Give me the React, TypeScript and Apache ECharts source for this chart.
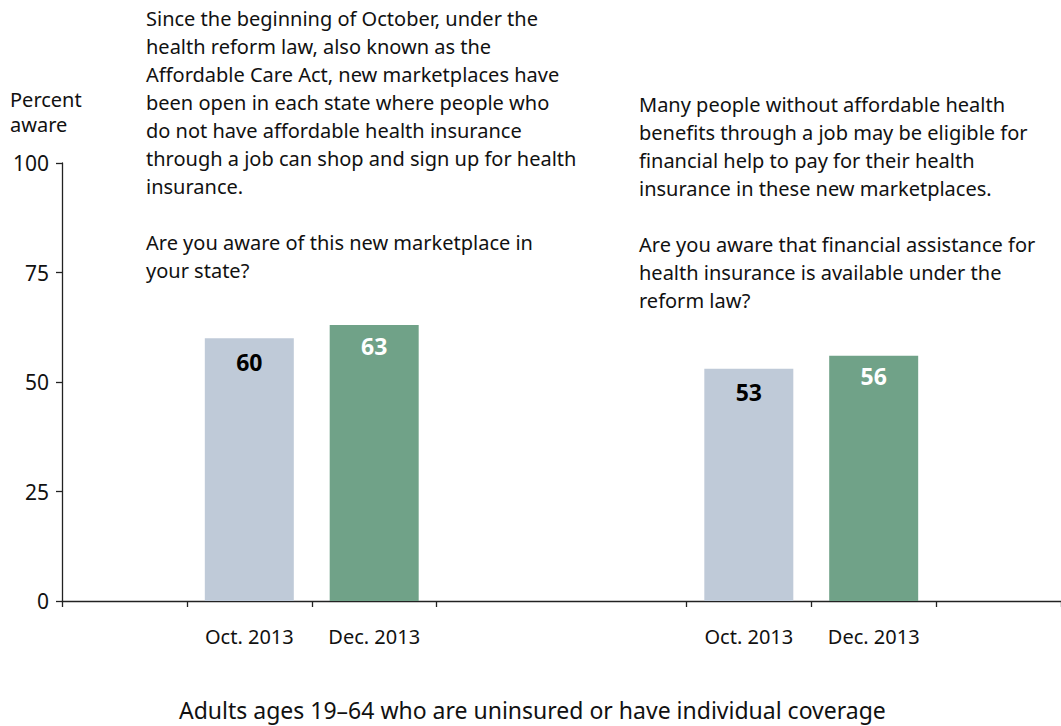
import React, { useEffect, useRef } from "react";
import * as echarts from "echarts";

const categories = ["", "Oct. 2013", "Dec. 2013", "", "", "Oct. 2013", "Dec. 2013", ""];
const values: (number | null)[] = [null, 60, 63, null, null, 53, 56, null];
const barKinds = ["", "oct", "dec", "", "", "oct", "dec", ""];
const yTicks = [0, 25, 50, 75, 100];

const leftQuestion = [
  "Since the beginning of October, under the",
  "health reform law, also known as the",
  "Affordable Care Act, new marketplaces have",
  "been open in each state where people who",
  "do not have affordable health insurance",
  "through a job can shop and sign up for health",
  "insurance.",
  "",
  "Are you aware of this new marketplace in",
  "your state?",
];
const rightQuestion = [
  "Many people without affordable health",
  "benefits through a job may be eligible for",
  "financial help to pay for their health",
  "insurance in these new marketplaces.",
  "",
  "Are you aware that financial assistance for",
  "health insurance is available under the",
  "reform law?",
];
const yAxisTitle = "Percent\naware";
const footnote = "Adults ages 19–64 who are uninsured or have individual coverage";

const COLORS: Record<string, string> = { oct: "#BFCAD8", dec: "#70A288" };
const FONT = "Noto Sans";

export default function App() {
  const ref = useRef<HTMLDivElement>(null);
  useEffect(() => {
    document.body.style.margin = "0";
    const chart = echarts.init(ref.current!, undefined, { renderer: "svg" });
    chart.setOption({
      animation: false,
      textStyle: { fontFamily: FONT },
      title: [
        {
          text: leftQuestion.join("\n"),
          left: 146,
          top: 4,
          padding: 0,
          textStyle: { fontFamily: FONT, fontSize: 20, fontWeight: "normal", color: "#111", lineHeight: 28 },
        },
        {
          text: rightQuestion.join("\n"),
          left: 639,
          top: 90,
          padding: 0,
          textStyle: { fontFamily: FONT, fontSize: 20, fontWeight: "normal", color: "#111", lineHeight: 28 },
        },
        {
          text: yAxisTitle,
          left: 10,
          top: 87,
          padding: 0,
          textStyle: { fontFamily: FONT, fontSize: 20, fontWeight: "normal", color: "#111", lineHeight: 25 },
        },
        {
          text: footnote,
          left: 174,
          top: 693,
          textStyle: { fontFamily: FONT, fontSize: 23, fontWeight: "normal", color: "#111" },
        },
      ],
      grid: { left: 62, right: 0, top: 163, bottom: 125, containLabel: false },
      xAxis: {
        type: "category",
        data: categories,
        axisLine: { lineStyle: { color: "#222", width: 1.3 } },
        axisTick: {
          show: true,
          length: 6,
          lineStyle: { color: "#222", width: 1.3 },
          interval: (i: number) => i !== 4,
        },
        axisLabel: { interval: 0, margin: 25, fontSize: 20, color: "#111", fontFamily: FONT },
      },
      yAxis: {
        type: "value",
        min: 0,
        max: 100,
        interval: 25,
        axisLine: { show: true, lineStyle: { color: "#222", width: 1.3 } },
        axisTick: { show: true, length: 6, lineStyle: { color: "#222", width: 1.3 } },
        splitLine: { show: false },
        axisLabel: {
          fontSize: 21,
          color: "#111",
          margin: 13,
          fontFamily: FONT,
          formatter: (v: number) => (yTicks.includes(v) ? String(v) : ""),
        },
      },
      series: [
        {
          type: "bar",
          barWidth: 89,
          data: values.map((v, i) => {
            if (v === null) return null;
            const kind = barKinds[i];
            return {
              value: v,
              itemStyle: { color: COLORS[kind] },
              label: {
                show: true,
                position: "insideTop",
                distance: kind === "oct" ? 12 : 9,
                fontSize: 23,
                fontWeight: "bold",
                fontFamily: FONT,
                color: kind === "oct" ? "#000" : "#fff",
              },
            };
          }),
        },
      ],
    });
    return () => chart.dispose();
  }, []);
  return <div ref={ref} style={{ width: 1061, height: 726 }} />;
}
